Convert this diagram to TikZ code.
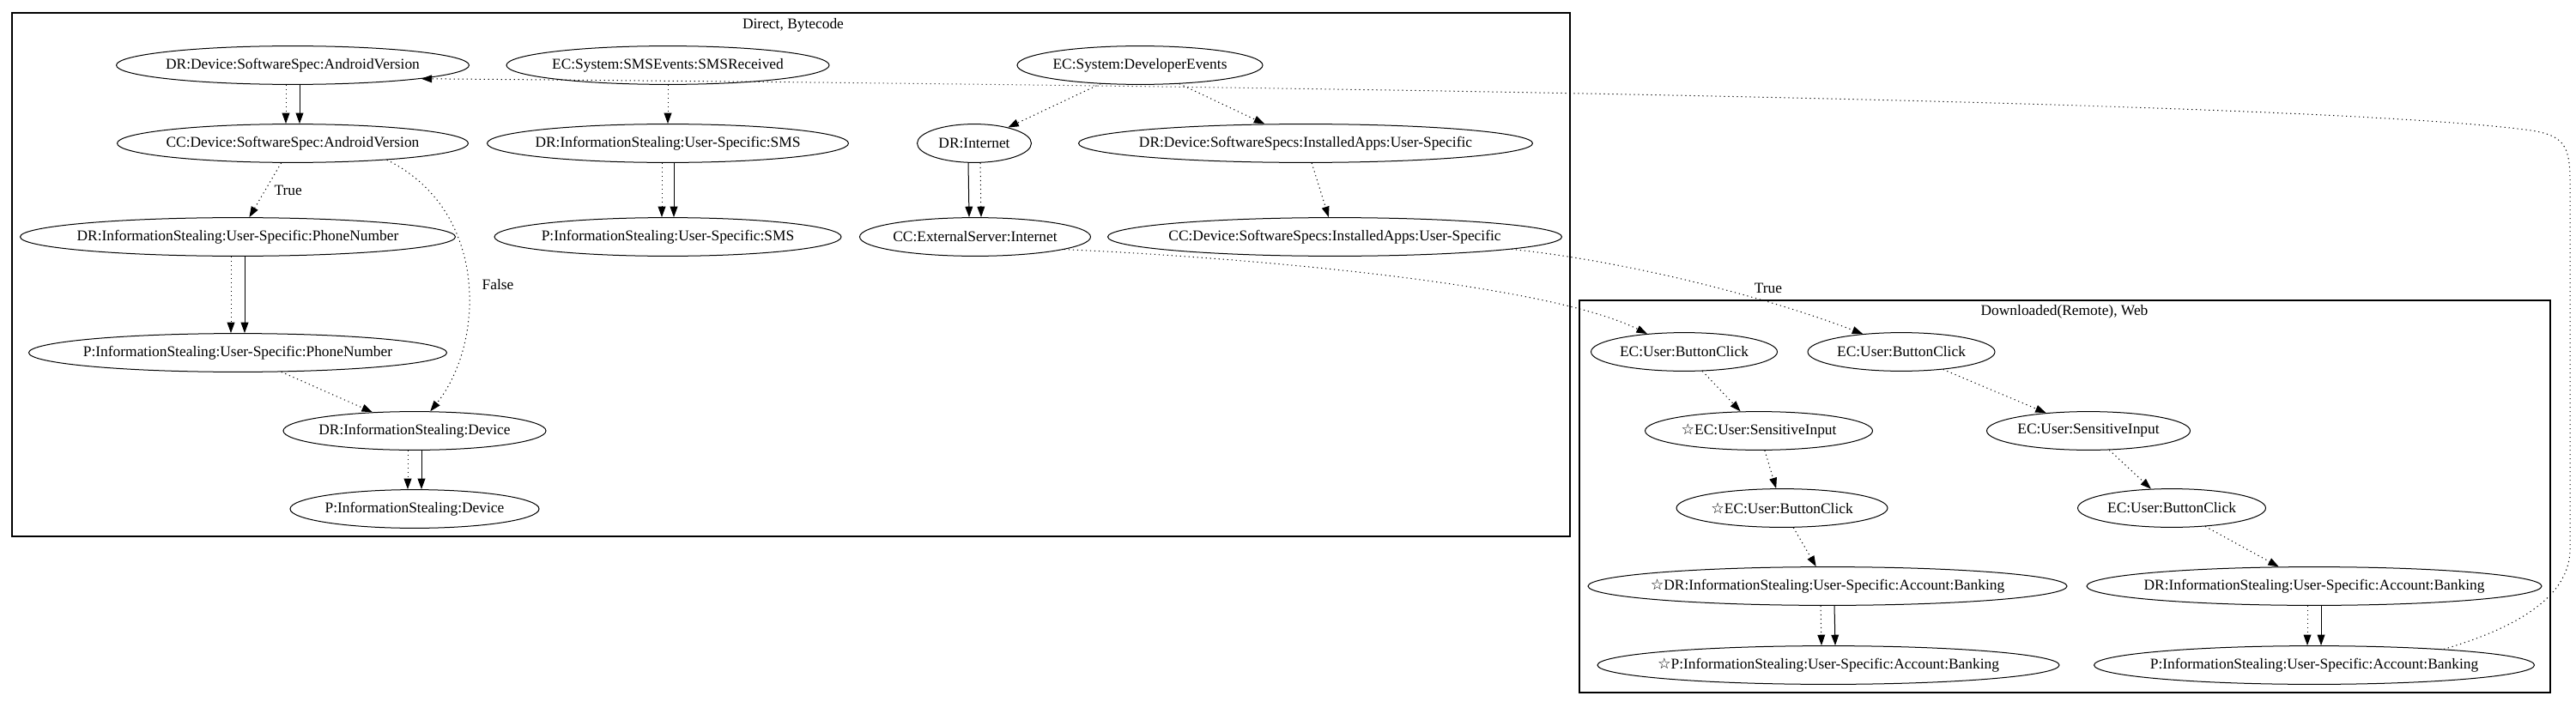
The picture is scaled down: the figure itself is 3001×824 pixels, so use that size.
\documentclass[tikz,border=0pt]{standalone}
\usepackage{fontspec}
\setmainfont{Liberation Serif}
\newfontfamily\starfont{DejaVu Sans}
\usetikzlibrary{arrows.meta,shapes.geometric}
\newcommand{\favstar}{{\starfont ☆}}

\begin{document}
\begin{tikzpicture}[x=0.5pt,y=-0.5pt,
  >={Triangle[length=6.2pt,width=4.4pt]},
  font=\fontsize{8.7}{10.4}\selectfont,
  state/.style={ellipse,draw,line width=0.5pt,inner xsep=-10pt,inner ysep=0pt,minimum height=22.4pt},
  cluster/.style={draw,line width=0.55pt},
  dotarrow/.style={->,line width=0.5pt,dash pattern=on 0.6pt off 1.9pt},
  solidarrow/.style={->,line width=0.5pt},
  elabel/.style={inner sep=2pt}]
\useasboundingbox (0,0) rectangle (3001,824);

\draw[cluster] (14,15) rectangle (1829,625);
\node (bytecode) at (924,29) {Direct, Bytecode};
\draw[cluster] (1840,350) rectangle (2971,807);
\node (web) at (2405,363) {Downloaded(Remote), Web};

\node[state,minimum width=205.5pt] (drav) at (341,76) {DR:Device:SoftwareSpec:AndroidVersion};
\node[state,minimum width=188pt] (ecsms) at (778,76) {EC:System:SMSEvents:SMSReceived};
\node[state,minimum width=143pt] (ecdev) at (1328,76) {EC:System:DeveloperEvents};
\node[state,minimum width=204.5pt] (ccav) at (341,167) {CC:Device:SoftwareSpec:AndroidVersion};
\node[state,minimum width=210.5pt] (drsms) at (778,167) {DR:InformationStealing:User-Specific:SMS};
\node[state,minimum width=66.5pt] (drnet) at (1135,167) {DR:Internet};
\node[state,minimum width=264.5pt] (drapps) at (1521,167) {DR:Device:SoftwareSpecs:InstalledApps:User-Specific};
\node[state,minimum width=253.5pt] (drphone) at (277,276) {DR:InformationStealing:User-Specific:PhoneNumber};
\node[state,minimum width=202pt] (psms) at (778,276) {P:InformationStealing:User-Specific:SMS};
\node[state,minimum width=134.5pt] (ccnet) at (1136,276) {CC:ExternalServer:Internet};
\node[state,minimum width=264.5pt] (ccapps) at (1555,276) {CC:Device:SoftwareSpecs:InstalledApps:User-Specific};
\node[state,minimum width=243.5pt] (pphone) at (277,411) {P:InformationStealing:User-Specific:PhoneNumber};
\node[state,minimum width=153pt] (drdev) at (483,502) {DR:InformationStealing:Device};
\node[state,minimum width=145pt] (pdev) at (483,593) {P:InformationStealing:Device};

\node[state,minimum width=108.5pt] (bcA) at (1962,410) {EC:User:ButtonClick};
\node[state,minimum width=109pt] (bcB) at (2215,410) {EC:User:ButtonClick};
\node[state,minimum width=132.5pt] (siA) at (2049,502) {\favstar EC:User:SensitiveInput};
\node[state,minimum width=118.5pt] (siB) at (2433,502) {EC:User:SensitiveInput};
\node[state,minimum width=123pt] (bcA2) at (2076,592) {\favstar EC:User:ButtonClick};
\node[state,minimum width=109.5pt] (bcB2) at (2530,592) {EC:User:ButtonClick};
\node[state,minimum width=279pt] (drbankA) at (2129,683) {\favstar DR:InformationStealing:User-Specific:Account:Banking};
\node[state,minimum width=265pt] (drbankB) at (2696,683) {DR:InformationStealing:User-Specific:Account:Banking};
\node[state,minimum width=269pt] (pbankA) at (2130,775) {\favstar P:InformationStealing:User-Specific:Account:Banking};
\node[state,minimum width=256.5pt] (pbankB) at (2696,775) {P:InformationStealing:User-Specific:Account:Banking};

\draw[dotarrow] ([xshift=-4pt]drav.south) -- ([xshift=-4pt]ccav.north);
\draw[solidarrow] ([xshift=4pt]drav.south) -- ([xshift=4pt]ccav.north);
\draw[dotarrow] (ccav) -- (drphone) node[elabel,midway,right=3pt] (ltrue) {True};
\draw[dotarrow] (ccav.-10) .. controls (570,245) and (565,400) .. (drdev) node[elabel,pos=0.52,right=6pt] (lfalse) {False};
\draw[dotarrow] ([xshift=-4pt]drphone.south) -- ([xshift=-4pt]pphone.north);
\draw[solidarrow] ([xshift=4pt]drphone.south) -- ([xshift=4pt]pphone.north);
\draw[dotarrow] (pphone) -- (drdev);
\draw[dotarrow] ([xshift=-4pt]drdev.south) -- ([xshift=-4pt]pdev.north);
\draw[solidarrow] ([xshift=4pt]drdev.south) -- ([xshift=4pt]pdev.north);
\draw[dotarrow] (ecsms) -- (drsms);
\draw[dotarrow] ([xshift=-3.5pt]drsms.south) -- ([xshift=-3.5pt]psms.north);
\draw[solidarrow] ([xshift=3.5pt]drsms.south) -- ([xshift=3.5pt]psms.north);
\draw[dotarrow] (ecdev) -- (drnet);
\draw[dotarrow] (ecdev) -- (drapps);
\draw[solidarrow] ([xshift=-3.5pt]drnet.south) -- ([xshift=-3.5pt]ccnet.north);
\draw[dotarrow] ([xshift=3.5pt]drnet.south) -- ([xshift=3.5pt]ccnet.north);
\draw[dotarrow] (drapps) -- (ccapps);

\draw[dotarrow] (ccnet.-8) .. controls (1450,300) and (1800,330) .. (bcA.154);
\draw[dotarrow] (ccapps.-4) .. controls (1900,305) and (2060,347) .. (bcB.155) node[elabel,pos=0.65,above right] (ltrue2) {True};
\draw[dotarrow] (pbankB.7) .. controls (2920,735) and (2994,700) .. (2994,640) -- (2994,210) .. controls (2994,168) and (2985,158) .. (2949,152) .. controls (2700,118) and (1500,100) .. (drav.-6);

\draw[dotarrow] (bcA) -- (siA);
\draw[dotarrow] (siA) -- (bcA2);
\draw[dotarrow] (bcA2) -- (drbankA);
\draw[dotarrow] ([xshift=-4pt]drbankA.south) -- ([xshift=-4pt]pbankA.north);
\draw[solidarrow] ([xshift=4pt]drbankA.south) -- ([xshift=4pt]pbankA.north);
\draw[dotarrow] (bcB) -- (siB);
\draw[dotarrow] (siB) -- (bcB2);
\draw[dotarrow] (bcB2) -- (drbankB);
\draw[dotarrow] ([xshift=-4pt]drbankB.south) -- ([xshift=-4pt]pbankB.north);
\draw[solidarrow] ([xshift=4pt]drbankB.south) -- ([xshift=4pt]pbankB.north);

\end{tikzpicture}
\end{document}
